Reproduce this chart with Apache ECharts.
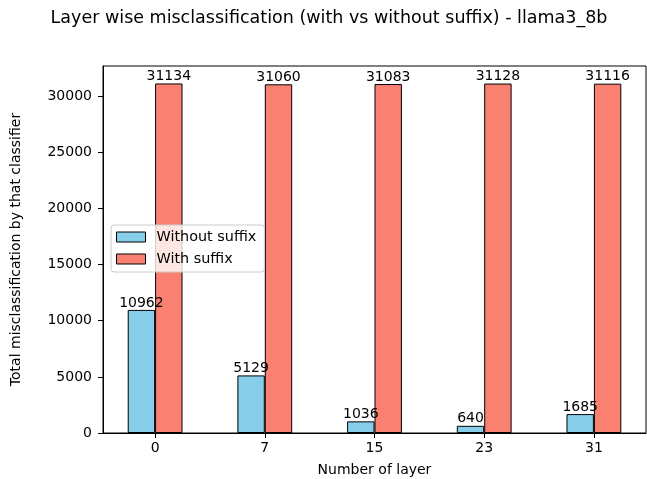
<!DOCTYPE html>
<html>
<head>
<meta charset="utf-8">
<script src="https://cdn.jsdelivr.net/npm/echarts@6/dist/echarts.min.js"></script>
<style>html,body{margin:0;padding:0;background:#fff}#c{width:647px;height:479px}</style>
</head>
<body>
<div id="c"></div>
<script>
const layers = ['0', '7', '15', '23', '31'];
const withoutSuffix = [10962, 5129, 1036, 640, 1685];
const withSuffix = [31134, 31060, 31083, 31128, 31116];
const yTicks = [0, 5000, 10000, 15000, 20000, 25000, 30000];
const xTicks = [0, 1, 2, 3, 4];

const FONT = 'DejaVu Sans';
const chart = echarts.init(document.getElementById('c'), null, {renderer: 'canvas'});
const labelStyle = {show: true, position: 'top', distance: 0, color: '#000', fontSize: 14, fontFamily: FONT,
  formatter: p => String(p.value[1])};
chart.setOption({
  animation: false,
  backgroundColor: '#fff',
  textStyle: {fontFamily: FONT, color: '#000'},
  title: {
    text: 'Layer wise misclassification (with vs without suffix) - llama3_8b',
    left: 324, textAlign: 'center', top: 4,
    textStyle: {fontFamily: FONT, fontSize: 17.5, fontWeight: 'normal', color: '#000'}
  },
  grid: {left: 103, right: 1, top: 66, bottom: 46, show: true, borderColor: '#000', borderWidth: 1,
    backgroundColor: 'transparent', outerBoundsMode: 'none', containLabel: false},
  legend: {
    orient: 'vertical', left: 111, top: 225,
    padding: [5, 8, 6, 5], itemGap: 8, itemWidth: 29, itemHeight: 10,
    backgroundColor: 'rgba(255,255,255,0.8)', borderColor: '#cccccc', borderWidth: 1, borderRadius: 3,
    icon: 'rect',
    itemStyle: {borderColor: '#000', borderWidth: 1},
    textStyle: {fontFamily: FONT, fontSize: 14.4, color: '#000', lineHeight: 14, padding: [0, 0, 0, 6]},
    data: ['Without suffix', 'With suffix']
  },
  xAxis: {
    type: 'value', min: -0.475, max: 4.475,
    name: 'Number of layer', nameLocation: 'middle', nameGap: 30,
    nameTextStyle: {fontFamily: FONT, fontSize: 14, color: '#000'},
    axisLine: {show: true, onZero: false, lineStyle: {color: '#000', width: 1}},
    axisTick: {show: true, inside: false, length: 5, lineStyle: {color: '#000'}, customValues: xTicks},
    axisLabel: {fontFamily: FONT, fontSize: 14, color: '#000', margin: 8, customValues: xTicks,
      formatter: v => layers[Math.round(v)]},
    splitLine: {show: false}
  },
  yAxis: {
    type: 'value', min: 0, max: 32690,
    name: 'Total misclassification by that classifier', nameLocation: 'middle', nameGap: 80, nameRotate: 90,
    nameTextStyle: {fontFamily: FONT, fontSize: 14, color: '#000'},
    axisLine: {show: true, onZero: false, lineStyle: {color: '#000', width: 1}},
    axisTick: {show: true, inside: false, length: 5, lineStyle: {color: '#000'}, customValues: yTicks},
    axisLabel: {fontFamily: FONT, fontSize: 14, color: '#000', margin: 11, customValues: yTicks,
      formatter: v => String(v)},
    splitLine: {show: false}
  },
  series: [
    {
      name: 'Without suffix', type: 'bar', barWidth: 27.4, barGap: '0%',
      data: withoutSuffix.map((v, i) => [xTicks[i], v]),
      itemStyle: {color: '#87CEEB', borderColor: '#000', borderWidth: 1},
      label: labelStyle
    },
    {
      name: 'With suffix', type: 'bar', barWidth: 27.4, barGap: '0%',
      data: withSuffix.map((v, i) => [xTicks[i], v]),
      itemStyle: {color: '#FA8072', borderColor: '#000', borderWidth: 1},
      label: labelStyle
    }
  ]
});
</script>
</body>
</html>
